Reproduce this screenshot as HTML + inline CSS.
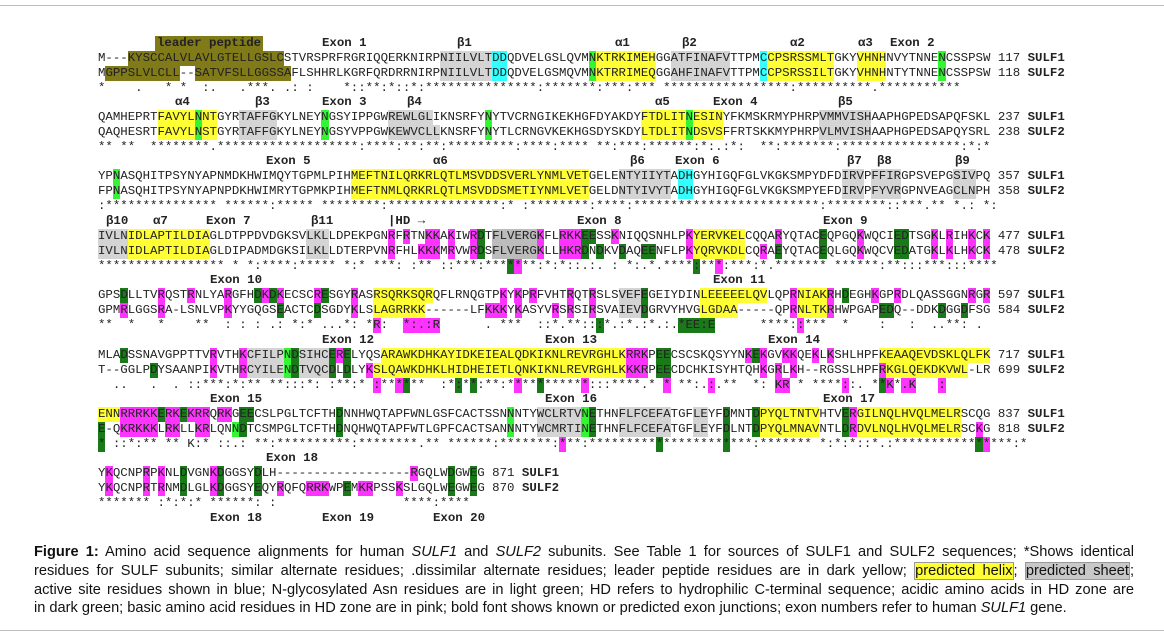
<!DOCTYPE html>
<html><head><meta charset="utf-8">
<style>
html,body{margin:0;padding:0;background:#fff;}
#fig{position:relative;width:1164px;height:639px;overflow:hidden;background:#fff;}
.hr{position:absolute;left:0;width:1164px;height:1px;background:#bdbdbd;}
.ln{position:absolute;left:98px;white-space:pre;font-family:"Liberation Mono","DejaVu Sans Mono",monospace;font-size:12.4px;line-height:15px;height:15px;color:#222;}
.ln span{display:inline-block;height:15px;}
.lab{position:absolute;white-space:pre;font-family:"Liberation Mono","DejaVu Sans Mono",monospace;font-weight:bold;font-size:12.4px;line-height:15px;color:#222;}
.o{background:#807a18;}.y{background:#ffff33;}.g{background:#d4d4d4;}.G{background:#bcbcbc;}
.c{background:#33ffff;}.l{background:#33f533;}.d{background:#1a7a1a;}.p{background:#ff33ff;}
.nm{font-weight:bold;}
#cap{position:absolute;left:34px;top:543px;width:1100px;font-family:"Liberation Sans",Arial,sans-serif;font-size:14.6px;line-height:18.8px;color:#111;}
#cap div{white-space:nowrap;text-align:justify;text-align-last:justify;}
#cap div.last{text-align-last:left;}
.hl{background:#ffff33;border:1px solid #999;}
.hs{background:#c8c8c8;border:1px solid #999;}
</style></head>
<body>
<div id="fig">
<div class="hr" style="top:5px"></div>
<div class="hr" style="top:630px"></div>
<div id="rows"></div>
<div id="cap">
<div><b>Figure 1:</b> Amino acid sequence alignments for human <i>SULF1</i> and <i>SULF2</i> subunits. See Table 1 for sources of SULF1 and SULF2 sequences; *Shows identical</div>
<div>residues for SULF subunits; similar alternate residues; .dissimilar alternate residues; leader peptide residues are in dark yellow; <span class="hl">predicted helix</span>; <span class="hs">predicted sheet</span>;</div>
<div>active site residues shown in blue; N-glycosylated Asn residues are in light green; HD refers to hydrophilic C-terminal sequence; acidic amino acids in HD zone are</div>
<div class="last">in dark green; basic amino acid residues in HD zone are in pink; bold font shows known or predicted exon junctions; exon numbers refer to human <i>SULF1</i> gene.</div>
</div>
</div>
<script>
const blocks = [
 {s1:"M---{o:KYSCCALVLAVLGTELLGSLC}STVRSPRFRGRIQQERKNIRP{g:NIILVLT}{c:DD}QDVELGSLQVM{l:N}{y:KTRKIMEH}GG{g:ATFINAFV}TTPM{c:C}{y:CPSRSSMLT}GKY{y:VHNH}NVYTNNE{l:N}CSSPSW", n1:"117",
  s2:"M{o:GPPSLVLCLL}--{o:SATVFSLLGGSSA}FLSHHRLKGRFQRDRRNIRP{g:NIILVLT}{c:DD}QDVELGSMQVM{l:N}{y:KTRRIMEQ}GG{g:AHFINAFV}TTPM{c:C}{y:CPSRSSILT}GKY{y:VHNH}NTYTNNE{l:N}CSSPSW", n2:"118",
  cs:"*    .   * *  :.   .***. .: :    *::**:*::*:***************:*******:***:*** *****************:**********.***********",
  labs:[["leader peptide",157,"o"],["Exon 1",322],["β1",457],["α1",615],["β2",682],["α2",790],["α3",858],["Exon 2",890]]},
 {s1:"QAMHEPRT{y:FAVYL}{l:N}{y:NT}GYR{g:TAFFG}KYLNEY{l:N}GSYIPPGW{g:REWLGL}IKNSRFY{l:N}YTVCRNGIKEKHGFDYAKDY{y:FTDLIT}{l:N}{y:ESIN}YFKMSKRMYPHRP{g:VMMVISH}AAPHGPEDSAPQFSKL", n1:"237",
  s2:"QAQHESRT{y:FAVYL}{l:N}{y:ST}GYR{g:TAFFG}KYLNEY{l:N}GSYVPPGW{g:KEWVCLL}KNSRFY{l:N}YTLCRNGVKEKHGSDYSKDY{y:LTDLIT}{l:N}{y:DSVS}FFRTSKKMYPHRP{g:VLMVISH}AAPHGPEDSAPQYSRL", n2:"238",
  cs:"** **  ********.*******************:****:**:**:*********:****:**** **:***:******:*:.:*:  **:*******:****************:*:*",
  labs:[["α4",175],["β3",255],["Exon 3",322],["β4",407],["α5",655],["Exon 4",713],["β5",838]]},
 {s1:"YP{l:N}ASQHITPSYNYAPNMDKHWIMQYTGPMLPIH{y:MEFTNILQRKRLQTLMSVDDSVERLYNMLVET}GELE{g:NTYIIYT}A{c:DH}GYHIGQFGLVKGKSMPYDFD{g:IRV}P{g:FFIR}GPSVEPG{g:SIV}PQ", n1:"357",
  s2:"FP{l:N}ASQHITPSYNYAPNPDKHWIMRYTGPMKPIH{y:MEFTNMLQRKRLQTLMSVDDSMETIYNMLVET}GELD{g:NTYIVYT}A{c:DH}GYHIGQFGLVKGKSMPYEFD{g:IRV}P{g:FYVR}GPNVEAG{g:CLN}PH", n2:"358",
  cs:":*************** ******:***** ********:***************:* :********:****:*************************:********::***.** *.: *:",
  labs:[["Exon 5",266],["α6",433],["β6",630],["Exon 6",675],["β7",847],["β8",877],["β9",955]]},
 {s1:"{g:IVLN}{y:IDLAPTILDIA}GLDTPPDVDGKSV{g:LKL}LDPEKPGN{p:R}F{p:R}TN{p:KK}A{p:K}IW{p:R}{d:D}T{G:FLVERG}{p:K}FL{p:RKK}{d:EE}SS{p:K}NIQQSNHLP{p:K}{y:YERVKEL}CQQA{p:R}YQTAC{d:E}QPGQ{p:K}WQCI{d:ED}TSG{p:K}L{p:R}IH{p:K}C{p:K}", n1:"477",
  s2:"{g:IVLN}{y:IDLAPTILDIA}GLDIPADMDGKSI{g:LKL}LDTERPVN{p:R}FHL{p:KKK}M{p:R}VW{p:R}{d:D}S{G:FLVERG}{p:K}LL{p:HKR}{d:D}N{d:D}KV{d:D}AQ{d:EE}NFLP{p:K}{y:YQRVKDL}CQ{p:R}A{d:E}YQTAC{d:E}QLGQ{p:K}WQCV{d:ED}ATG{p:K}L{p:K}LH{p:K}C{p:K}", n2:"478",
  cs:"***************** * *:****:***** *:* ***: :** ::***:***{d:*}{p:*}**:*:*::.:. : *:.*.****{d::}**{p:*}:***:*.******* ******:**:::***:::****",
  labs:[["β10",106],["α7",153],["Exon 7",206],["β11",311],["|HD →",388],["Exon 8",577],["Exon 9",823]]},
 {s1:"GPS{d:D}LLTV{p:R}QST{p:R}NLYA{p:R}GFH{d:D}{p:K}{d:D}{p:K}ECSC{p:R}{d:E}SGY{p:R}AS{y:RSQRKSQR}QFLRNQGTP{p:K}Y{p:K}P{p:R}FVHT{p:R}QT{p:R}SLS{g:VEF}{d:E}GEIYDIN{y:LEEEEELQV}LQP{p:R}{y:NIAK}{p:R}H{d:D}EGH{p:K}GP{p:R}DLQASSGGN{p:R}G{p:R}", n1:"597",
  s2:"GPM{p:R}LGGS{p:R}A-LSNLVP{p:K}YYGQGS{d:E}ACTC{d:D}SGDY{p:K}LS{y:LAGRRKK}------LF{p:KKK}Y{p:K}ASYV{p:R}S{p:R}SI{p:R}SVA{g:IEV}{d:D}GRVYHVG{y:LGDAA}-----QP{p:R}{y:NLTK}{p:R}HWPGAP{d:ED}Q--DDK{d:D}GG{d:D}FSG", n2:"584",
  cs:"**  *   *    **  : : : .: *:* ...*: *{p:R}:  {p:*:.:R}      . ***  ::*.**::{d::}*.:*.:*.:.{d:*EE:E}      ****:{p::}***  *    :   :  ..**: .",
  labs:[["Exon 10",210],["Exon 11",713]]},
 {s1:"MLA{d:D}SSNAVGPPTTV{p:R}VTH{p:K}{g:CFILP}{l:N}{d:D}{g:SIHC}{d:E}{p:R}{d:E}LYQS{y:ARAWKDHKAYIDKEIEALQDKIKNLREVRGHLK}{p:RRK}P{d:EE}CSCSKQSYYN{p:K}{d:E}{p:K}GV{p:KK}QE{p:K}L{p:K}SHLHPF{y:KEAAQEVDSKLQLFK}", n1:"717",
  s2:"T--GGLP{d:D}YSAANPI{p:K}VTH{p:R}{g:CYILE}{l:N}{d:D}{g:TVQC}{d:D}L{d:D}LY{p:K}{y:SLQAWKDHKLHIDHEIETLQNKIKNLREVRGHLK}{p:KKR}P{d:EE}CDCHKISYHTQH{p:K}G{p:R}L{p:K}H--RGSSLHPF{p:R}{y:KGLQEKDKVWL}-LR", n2:"699",
  cs:"  ..   .  . ::***:*:** **:::*: :**:* {p::}**{p:*}{d:*}**  :*{d::}*{d:*}:**:*{p:*}**{d:*}*****{p:*}:::****.* {p:*} **:.{p::}.**  *: {p:KR} * ****{p::}:. *{d:*}{p:K}*{p:.K}   {p::}",
  labs:[["Exon 12",322],["Exon 13",545],["Exon 14",768]]},
 {s1:"{y:ENN}{p:RRRKK}{d:E}{p:RK}{d:E}{p:KRR}Q{p:RK}G{d:EE}CSLPGLTCFTH{d:D}NNHWQTAPFWNLGSFCACTSSN{l:N}NTY{g:WCLRTV}{l:N}{d:E}THN{g:FLFCEFA}TGF{g:LE}YF{d:D}MNT{d:D}{y:PYQLTNTV}HTV{d:E}{p:R}{y:GILNQLHVQLMELR}SCQG", n1:"837",
  s2:"{d:E}-Q{p:KRKKK}L{p:RK}LL{p:KR}LQN{l:N}{d:D}TCSMPGLTCFTH{d:D}NQHWQTAPFWTLGPFCACTSAN{l:N}NTY{g:WCMRTI}{l:N}{d:E}THN{g:FLFCEFA}TGF{g:LE}YF{d:D}LNT{d:D}{y:PYQLMNAV}NTL{d:D}{p:R}{y:DVLNQLHVQLMELR}SC{p:K}G", n2:"818",
  cs:"{d:*} ::*:** ** K:* ::.: **:**********:********.** ******:*******:{p:*}**:*********{d:*}********{d:*}***:******* *:*:*::*.:***********{d:*}{p:*}***:*",
  labs:[["Exon 15",210],["Exon 16",545],["Exon 17",823]]},
 {s1:"Y{p:K}QCNP{p:R}P{p:K}NL{d:D}VGN{p:K}{d:D}GGSY{d:D}LH------------------{p:R}GQLW{d:D}GW{d:E}G", n1:"871",
  s2:"Y{p:K}QCNP{p:R}T{p:R}NM{d:D}LGL{p:K}{d:D}GGSY{d:E}QY{p:R}QFQ{p:RRK}WP{d:E}M{p:KR}PSS{p:K}SLGQLW{d:E}GW{d:E}G", n2:"870",
  cs:"******* :*:*:* ******: :                 ****:****",
  labs:[["Exon 18",266]]}
];
const bottomLabels = [["Exon 18",210],["Exon 19",322],["Exon 20",433]];

function fmt(s){
  return s.replace(/\{(\w):([^}]*)\}/g,(m,c,t)=>'<span class="'+c+'">'+t+'</span>');
}
const root=document.getElementById('rows');
const top0=35.5, pitch=59.4;
blocks.forEach((b,i)=>{
  const y=top0+pitch*i;
  b.labs.forEach(L=>{
    const d=document.createElement('div');
    d.className='lab'+(L[2]?' o':'');
    d.style.left=L[1]+'px';d.style.top=y+'px';
    if(L[2]){d.style.padding='0 2px';d.style.marginLeft='-2px';}
    d.textContent=L[0];
    
    
    root.appendChild(d);
  });
  const last = i===blocks.length-1;
  [[b.s1,b.n1,'SULF1'],[b.s2,b.n2,'SULF2']].forEach((r,k)=>{
    const d=document.createElement('div');
    d.className='ln';d.style.top=(y+15*(k+1))+'px';
    d.innerHTML=fmt(r[0])+' '+r[1]+' <b class="nm">'+r[2]+'</b>';
    
    
    root.appendChild(d);
  });
  const c=document.createElement('div');
  c.className='ln';c.style.top=(y+45)+'px';
  c.innerHTML=fmt(b.cs);
  
  
  root.appendChild(c);
});
bottomLabels.forEach(L=>{
  const d=document.createElement('div');
  d.className='lab';d.style.left=L[1]+'px';d.style.top=(top0+pitch*7+60)+'px';
  d.textContent=L[0];
  
  
  root.appendChild(d);
});
</script>
</body></html>
